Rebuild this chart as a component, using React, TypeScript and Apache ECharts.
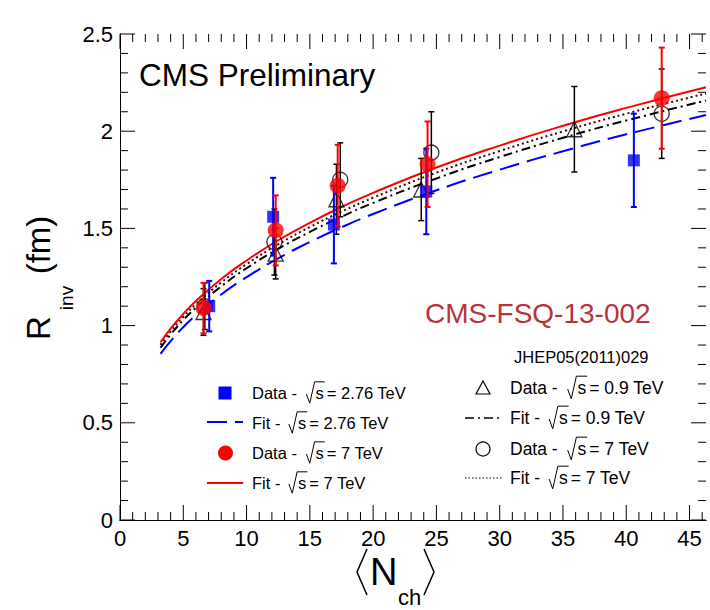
import React, { useEffect, useRef } from 'react';
import * as echarts from 'echarts';

// ---- data ----
const fitX = [3.2, 4, 5, 6, 8, 10, 12.5, 15, 17.5, 20, 25, 30, 35, 40, 46.3];
const fit276 = [0.855, 0.92, 0.992, 1.054, 1.16, 1.249, 1.346, 1.43, 1.506, 1.574, 1.696, 1.802, 1.897, 1.984, 2.083];
const fit7 = [0.914, 0.984, 1.06, 1.127, 1.24, 1.335, 1.439, 1.529, 1.61, 1.683, 1.813, 1.926, 2.028, 2.12, 2.226];
const fit09 = [0.886, 0.954, 1.028, 1.092, 1.202, 1.295, 1.395, 1.482, 1.56, 1.631, 1.757, 1.867, 1.966, 2.055, 2.158];
const fit7old = [0.901, 0.97, 1.045, 1.11, 1.222, 1.316, 1.418, 1.507, 1.586, 1.658, 1.787, 1.898, 1.999, 2.09, 2.194];

const nch276 = [7.05, 12.1, 16.9, 24.2, 40.6];
const r276 = [1.1, 1.56, 1.52, 1.69, 1.85];
const e276 = [0.13, 0.2, 0.2, 0.22, 0.24];

const nch7 = [6.6, 12.3, 17.2, 24.3, 42.8];
const r7 = [1.09, 1.49, 1.72, 1.83, 2.17];
const e7 = [0.13, 0.18, 0.21, 0.22, 0.26];

const nch09 = [6.6, 12.3, 17.1, 23.8, 35.9];
const r09 = [1.07, 1.37, 1.65, 1.7, 2.01];
const e09 = [0.12, 0.13, 0.18, 0.16, 0.22];

const nch7old = [6.7, 12.2, 17.4, 24.6, 42.8];
const r7old = [1.1, 1.43, 1.75, 1.89, 2.09];
const e7old = [0.12, 0.17, 0.19, 0.21, 0.23];

// tick positions
const xMajor = [0, 5, 10, 15, 20, 25, 30, 35, 40, 45];
const xMinor = [1, 2, 3, 4, 6, 7, 8, 9, 11, 12, 13, 14, 16, 17, 18, 19, 21, 22, 23, 24, 26, 27, 28, 29, 31, 32, 33, 34, 36, 37, 38, 39, 41, 42, 43, 44, 46];
const yMajor = [0, 0.5, 1, 1.5, 2, 2.5];
const yMinor = [0.1, 0.2, 0.3, 0.4, 0.6, 0.7, 0.8, 0.9, 1.1, 1.2, 1.3, 1.4, 1.6, 1.7, 1.8, 1.9, 2.1, 2.2, 2.3, 2.4];

// legend texts
const legendLeft = [
  { pre: 'Data -', energy: '= 2.76 TeV' },
  { pre: 'Fit -', energy: '= 2.76 TeV' },
  { pre: 'Data -', energy: '= 7 TeV' },
  { pre: 'Fit -', energy: '= 7 TeV' },
];
const legendRight = [
  { pre: 'Data -', energy: '= 0.9 TeV' },
  { pre: 'Fit -', energy: '= 0.9 TeV' },
  { pre: 'Data -', energy: '= 7 TeV' },
  { pre: 'Fit -', energy: '= 7 TeV' },
];

const FONT = '"Liberation Sans", Arial, Helvetica, sans-serif';
const BLUE = '#0000ff';
const RED = '#ff0000';
const xMax = 46.3;
const yMax = 2.5;

const zip = (xs: number[], ys: number[]) => xs.map((x, i) => [x, ys[i]]);
const zip3 = (xs: number[], ys: number[], es: number[]) => xs.map((x, i) => [x, ys[i], es[i]]);

const errRender = (color: string, lw: number) => (_p: any, api: any) => {
  const x = api.value(0), y = api.value(1), e = api.value(2);
  const t = api.coord([x, y + e]);
  const b = api.coord([x, y - e]);
  const style = { stroke: color, lineWidth: lw };
  return {
    type: 'group',
    children: [
      { type: 'line', shape: { x1: t[0], y1: t[1], x2: b[0], y2: b[1] }, style },
      { type: 'line', shape: { x1: t[0] - 3, y1: t[1], x2: t[0] + 3, y2: t[1] }, style },
      { type: 'line', shape: { x1: b[0] - 3, y1: b[1], x2: b[0] + 3, y2: b[1] }, style },
    ],
  };
};

// inward ticks on all four sides, placed through the axes' scales
const tickRender = (_p: any, api: any) => {
  const o = api.coord([0, 0]);
  const tr = api.coord([xMax, yMax]);
  const yB = o[1], yT = tr[1], xL = o[0], xR = tr[0];
  const style = { stroke: '#000', lineWidth: 1 };
  const ch: any[] = [];
  const vx = (v: number, len: number) => {
    const px = api.coord([v, 0])[0];
    ch.push({ type: 'line', shape: { x1: px, y1: yB, x2: px, y2: yB - len }, style });
    ch.push({ type: 'line', shape: { x1: px, y1: yT, x2: px, y2: yT + len }, style });
  };
  const vy = (v: number, len: number) => {
    const py = api.coord([0, v])[1];
    ch.push({ type: 'line', shape: { x1: xL, y1: py, x2: xL + len, y2: py }, style });
    ch.push({ type: 'line', shape: { x1: xR, y1: py, x2: xR - len, y2: py }, style });
  };
  xMajor.forEach((v) => vx(v, 15));
  xMinor.forEach((v) => vx(v, 8));
  yMajor.forEach((v) => vy(v, 15));
  yMinor.forEach((v) => vy(v, 8));
  return { type: 'group', children: ch };
};

const txt = (x: number, y: number, s: string, size: number, extra: any = {}) => ({
  type: 'text',
  x,
  y,
  ...extra,
  style: {
    text: s,
    fontSize: size,
    fontFamily: FONT,
    fill: extra.fill || '#000',
    textAlign: extra.align || 'left',
    align: extra.align || 'left',
    textVerticalAlign: 'middle',
    verticalAlign: 'middle',
  },
});

// one legend label: "Data -  √s = 7 TeV" with a drawn radical and overline
const legendLabel = (x0: number, y: number, pre: string, energy: string, size: number) => {
  const isData = pre.startsWith('Data');
  const k = size / 17;
  const xs = x0 + (isData ? 56 : 38) * k;
  const yT = y - 11.5 * k;
  const yB = y + 10.5 * k;
  return [
    txt(x0, y, pre, size),
    {
      type: 'polyline',
      shape: { points: [[xs, y + 1 * k], [xs + 3.5 * k, yB], [xs + 8.5 * k, yT], [xs + 19 * k, yT]] },
      style: { stroke: '#000', lineWidth: 1, fill: 'none' },
    },
    txt(xs + 9.5 * k, y, 's', size),
    txt(xs + 21 * k, y, energy, size),
  ];
};

export default function App() {
  const ref = useRef<HTMLDivElement>(null);
  useEffect(() => {
    if (!ref.current) return;
    const chart = echarts.init(ref.current, undefined, { renderer: 'svg' });
    const axisLine = { show: true, lineStyle: { color: '#000', width: 1 } };
    const leftRows = [393, 423, 453, 483];
    const rightRows = [388, 418, 449, 478];
    const legendTexts: any[] = [];
    legendLeft.forEach((l, i) => legendTexts.push(...legendLabel(252, leftRows[i], l.pre, l.energy, 16.5)));
    legendRight.forEach((l, i) => legendTexts.push(...legendLabel(510, rightRows[i], l.pre, l.energy, 17.5)));
    const option: any = {
      animation: false,
      backgroundColor: '#fff',
      grid: { left: 120, right: 4, top: 34, bottom: 90, containLabel: false },
      xAxis: [
        {
          type: 'value', min: 0, max: xMax, interval: 5, position: 'bottom',
          axisLine, axisTick: { show: false }, splitLine: { show: false },
          axisLabel: {
            showMaxLabel: false, fontSize: 22, color: '#000', fontFamily: FONT, margin: 7,
            formatter: (v: number) => (xMajor.includes(v) ? String(v) : ''),
          },
        },
        {
          type: 'value', min: 0, max: xMax, interval: 5, position: 'top',
          axisLine, axisTick: { show: false }, splitLine: { show: false }, axisLabel: { show: false },
        },
      ],
      yAxis: [
        {
          type: 'value', min: 0, max: yMax, interval: 0.5, position: 'left',
          axisLine, axisTick: { show: false }, splitLine: { show: false },
          axisLabel: {
            fontSize: 22, color: '#000', fontFamily: FONT, margin: 7,
            formatter: (v: number) => (yMajor.includes(v) ? String(v) : ''),
          },
        },
        {
          type: 'value', min: 0, max: yMax, interval: 0.5, position: 'right',
          axisLine, axisTick: { show: false }, splitLine: { show: false }, axisLabel: { show: false },
        },
      ],
      series: [
        { type: 'custom', data: [[0, 0]], encode: { x: 0, y: 1 }, renderItem: tickRender, z: 1, silent: true },
        { type: 'line', data: zip(fitX, fit276), smooth: true, showSymbol: false, symbol: 'none', lineStyle: { color: BLUE, width: 2, type: [20, 8] }, z: 2 },
        { type: 'line', data: zip(fitX, fit09), smooth: true, showSymbol: false, symbol: 'none', lineStyle: { color: '#000', width: 2, type: [9, 4, 2, 4] }, z: 2 },
        { type: 'line', data: zip(fitX, fit7old), smooth: true, showSymbol: false, symbol: 'none', lineStyle: { color: '#3a0505', width: 2, type: [2, 3] }, z: 2 },
        { type: 'line', data: zip(fitX, fit7), smooth: true, showSymbol: false, symbol: 'none', lineStyle: { color: RED, width: 2, type: 'solid' }, z: 2 },
        { type: 'custom', data: zip3(nch09, r09, e09), encode: { x: 0, y: 1 }, renderItem: errRender('#000', 1.5), z: 3 },
        { type: 'custom', data: zip3(nch7old, r7old, e7old), encode: { x: 0, y: 1 }, renderItem: errRender('#000', 1.5), z: 3 },
        { type: 'scatter', data: zip(nch09, r09), symbol: 'triangle', symbolSize: 15, itemStyle: { color: 'rgba(0,0,0,0)', borderColor: '#000', borderWidth: 1.3 }, z: 4 },
        { type: 'scatter', data: zip(nch7old, r7old), symbol: 'circle', symbolSize: 15, itemStyle: { color: 'rgba(0,0,0,0)', borderColor: '#000', borderWidth: 1.3 }, z: 4 },
        { type: 'custom', data: zip3(nch276, r276, e276), encode: { x: 0, y: 1 }, renderItem: errRender(BLUE, 2), z: 5 },
        { type: 'scatter', data: zip(nch276, r276), symbol: 'rect', symbolSize: 12, itemStyle: { color: BLUE }, z: 6 },
        { type: 'custom', data: zip3(nch7, r7, e7), encode: { x: 0, y: 1 }, renderItem: errRender(RED, 2), z: 7 },
        { type: 'scatter', data: zip(nch7, r7), symbol: 'circle', symbolSize: 16, itemStyle: { color: RED }, z: 8 },
      ],
      graphic: [
        txt(139, 75, 'CMS Preliminary', 31.5),
        txt(425, 313, 'CMS-FSQ-13-002', 28, { fill: '#b8323e' }),
        txt(514, 357, 'JHEP05(2011)029', 16.5),
        // left legend column symbols
        { type: 'rect', shape: { x: 218.5, y: 386.5, width: 13, height: 13 }, style: { fill: BLUE } },
        { type: 'line', shape: { x1: 207, y1: 422, x2: 243, y2: 422 }, style: { stroke: BLUE, lineWidth: 2, lineDash: [20, 8] } },
        { type: 'circle', shape: { cx: 225.5, cy: 453, r: 7.5 }, style: { fill: RED } },
        { type: 'line', shape: { x1: 207, y1: 483, x2: 243, y2: 483 }, style: { stroke: RED, lineWidth: 2 } },
        // right legend column symbols
        { type: 'polygon', shape: { points: [[483, 381], [476, 394], [490, 394]] }, style: { fill: 'none', stroke: '#000', lineWidth: 1.2 } },
        { type: 'line', shape: { x1: 465, y1: 418, x2: 502, y2: 418 }, style: { stroke: '#000', lineWidth: 1.5, lineDash: [9, 4, 2, 4] } },
        { type: 'circle', shape: { cx: 483, cy: 449, r: 7 }, style: { fill: 'none', stroke: '#000', lineWidth: 1.2 } },
        { type: 'line', shape: { x1: 465, y1: 478, x2: 502, y2: 478 }, style: { stroke: '#000', lineWidth: 1.2, lineDash: [1.5, 2] } },
        ...legendTexts,
        // y axis title (rotated)
        txt(38, 328, 'R', 33, { rotation: Math.PI / 2, align: 'center' }),
        txt(66, 298, 'inv', 19, { rotation: Math.PI / 2, align: 'center' }),
        txt(38, 245, '(fm)', 33, { rotation: Math.PI / 2, align: 'center' }),
        // x axis title
        { type: 'polyline', shape: { points: [[367, 549], [357, 572], [367, 595]] }, style: { stroke: '#000', lineWidth: 1.5, fill: 'none' } },
        txt(370, 572, 'N', 38),
        txt(398, 597, 'ch', 22),
        { type: 'polyline', shape: { points: [[424, 549], [434, 572], [424, 595]] }, style: { stroke: '#000', lineWidth: 1.5, fill: 'none' } },
      ],
    };
    chart.setOption(option);
    return () => chart.dispose();
  }, []);
  return <div ref={ref} style={{ position: 'fixed', left: 0, top: 0, width: 710, height: 610 }} />;
}
